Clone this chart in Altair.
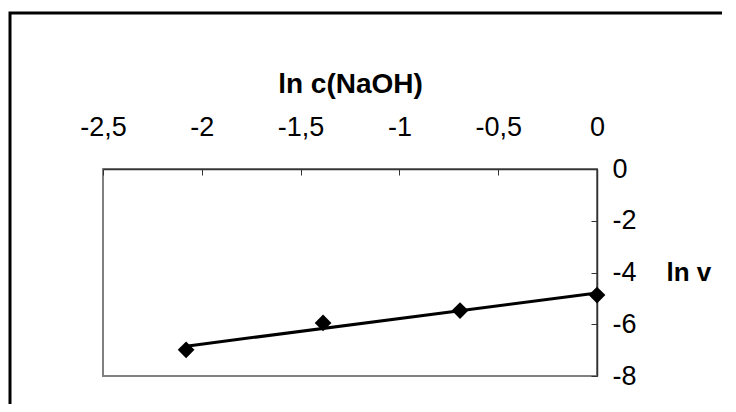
import altair as alt
import pandas as pd

ln_c = [-2.0794, -1.3863, -0.6931, 0.0]
ln_v = [-6.99, -5.95, -5.47, -4.87]
x_ticks = [-2.5, -2.0, -1.5, -1.0, -0.5, 0.0]
y_ticks = [-8, -6, -4, -2, 0]

df = pd.DataFrame({"x": ln_c, "y": ln_v})

FONT = "Liberation Sans"
FS = 27
W, H = 494, 207

xs = alt.Scale(domain=[-2.5, 0], nice=False, zero=False)
ys = alt.Scale(domain=[-8, 0], nice=False)

label_x = "(datum.value < 0 ? '-' : '') + replace(toString(abs(datum.value)), '.', ',')"
label_y = "(datum.value < 0 ? '-' : '') + toString(abs(datum.value))"

line = alt.Chart(df).transform_regression("x", "y").mark_line(
    color="black", strokeWidth=3
).encode(
    x=alt.X("x:Q", scale=xs, axis=alt.Axis(
        orient="top", values=x_ticks, labelExpr=label_x, ticks=False, tickSize=0,
        domainColor="#333333", domainWidth=1.5, grid=False, labelFlush=False,
        labelAlign="center", labelOverlap=False,
        labelFont=FONT, labelFontSize=FS, labelColor="black", labelPadding=34,
        labelBaseline="alphabetic",
        title="ln c(NaOH)", titleFont=FONT, titleFontSize=28, titleFontWeight="bold",
        titleColor="black", titleX=W / 2, titleY=-77, titleBaseline="alphabetic",
        titleAlign="center")),
    y=alt.Y("y:Q", scale=ys, axis=alt.Axis(
        orient="right", values=y_ticks, labelExpr=label_y, ticks=False, tickSize=0,
        domainColor="#333333", domainWidth=1.5, grid=False, labelFlush=False,
        labelOverlap=False,
        labelFont=FONT, labelFontSize=FS, labelColor="black", labelPadding=15,
        labelAlign="left", labelBaseline="middle",
        title="ln v", titleFont=FONT, titleFontSize=26, titleFontWeight="bold",
        titleColor="black", titleAngle=0, titleX=69, titleY=H / 2,
        titleAlign="left", titleBaseline="middle")),
)

points = alt.Chart(df).mark_point(
    shape="diamond", filled=True, color="black", size=280, opacity=1
).encode(
    x=alt.X("x:Q", scale=xs, axis=alt.Axis(
        orient="bottom", offset=-H, values=x_ticks, labels=False, domain=False,
        ticks=True, tickSize=6, tickColor="#333333", grid=False, title=None)),
    y=alt.Y("y:Q", scale=ys, axis=alt.Axis(
        orient="left", offset=-W, values=y_ticks, labels=False, domain=False,
        ticks=True, tickSize=6, tickColor="#333333", grid=False, title=None)),
)

frame = alt.Chart(alt.Data(values=[{}])).mark_rect(
    filled=False, stroke="black", strokeWidth=3, clip=False
).encode(
    x=alt.value(-93), x2=alt.value(900),
    y=alt.value(-156), y2=alt.value(600),
)

chart = alt.layer(frame, line, points).resolve_axis(
    x="independent", y="independent"
).properties(
    width=W, height=H,
    autosize=alt.AutoSizeParams(type="none"),
    padding={"left": 95, "top": 161, "right": 125, "bottom": 28},
).configure_view(stroke="#808080", strokeWidth=2)

chart.save("out.html", embed_options={"renderer": "svg", "actions": False})
